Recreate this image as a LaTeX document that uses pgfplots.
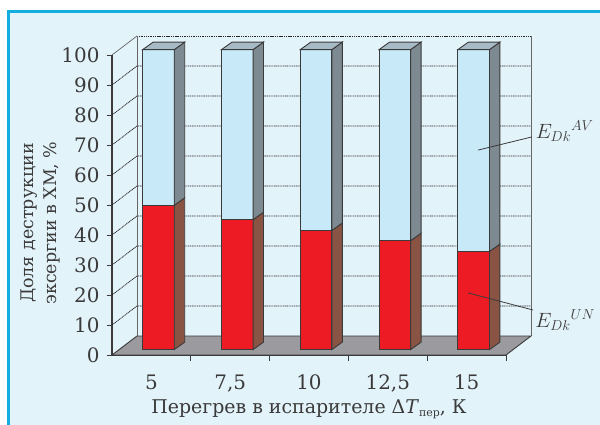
\documentclass[border=0pt]{standalone}
\usepackage{pgfplots}
\pgfplotsset{compat=1.18}
\usepackage{pgfplotstable}
\usepackage{fontspec}
\setmainfont{DejaVu Serif}

\definecolor{panelbg}{HTML}{E3F3FA}
\definecolor{panelline}{HTML}{12AEDF}
\definecolor{frontred}{HTML}{ED1C24}
\definecolor{sidered}{HTML}{8A5444}
\definecolor{frontblue}{HTML}{C7E9F8}
\definecolor{sideblue}{HTML}{7E8A92}
\definecolor{topblue}{HTML}{A7BBC6}
\definecolor{floorgray}{HTML}{9B9B9F}
\definecolor{edge}{HTML}{3A3A3A}
\definecolor{labelgray}{HTML}{3A3A3A}

% shares of exergy destruction, %: unavoidable (un) and avoidable (av)
\pgfplotstableread{
x     un    av
0.59  48.1  51.9
1.59  43.3  56.7
2.59  39.7  60.3
3.59  36.3  63.7
4.59  32.7  67.3
}\shares

\pgfplotsset{
  box/.style={scale only axis, width=394bp, height=300bp,
    xmin=0, xmax=5, ymin=0, ymax=100, clip=false, anchor=south west},
}
\tikzset{
  gridline/.style={draw=black!85, line width=0.8pt, dash pattern=on 1.1pt off 0.7pt},
  wallline/.style={draw=black!60, line width=0.7pt},
  faceedge/.style={draw=edge, line width=0.9pt},
}

\begin{document}
\begin{tikzpicture}
\useasboundingbox (0,0) rectangle (600bp,425bp);
\fill[white] (0,0) rectangle (600bp,425bp);
\fill[panelbg] (8.5bp,0) rectangle (600bp,413.5bp);
\draw[panelline, line width=3bp] (8.5bp,0) -- (8.5bp,413.5bp) -- (600bp,413.5bp);

% frame: walls, floor, ticks and labels
\begin{axis}[box, at={(112bp,70bp)},
  axis x line*=bottom, axis y line*=left,
  axis line style={draw=edge, line width=1.1pt},
  ytick={0,10,...,100}, tick align=outside, major tick length=5bp,
  tick style={draw=edge, line width=0.9pt},
  xtick={0.5,1.5,...,4.5}, xticklabels={5,{7,5},10,{12,5},15},
  major x tick style=transparent,
  tick label style={font=\fontsize{20}{20}\selectfont, text=labelgray},
  yticklabel style={xshift=-4bp},
  xticklabel style={yshift=-11bp},
  /pgf/number format/assume math mode=true,
  xlabel={Перегрев в испарителе Δ\textit{T}\raisebox{-0.35ex}{\fontsize{11}{11}\selectfont пер}, К},
  xlabel style={at={(axis description cs:0.5,-0.18)}, anchor=center,
    font=\fontsize{19}{19}\selectfont, text=labelgray},
  ylabel={Доля деструкции\\эксергии в ХМ, \%},
  ylabel style={at={(axis description cs:-0.1825,0.44)}, anchor=center, align=center,
    font=\fontsize{17.5}{23}\selectfont, text=labelgray},
]
% back and side walls
\pgfplotsinvokeforeach{10,20,...,90}{
  \draw[gridline] (axis cs:0,#1) -- (axis cs:0.317,{#1+6.33}) -- (axis cs:5.317,{#1+6.33});
}
\draw[wallline] (axis cs:0,100) -- (axis cs:0.317,106.33);
\draw[gridline] (axis cs:0.317,106.33) -- (axis cs:5.317,106.33);
\draw[wallline] (axis cs:0.317,6.33) -- (axis cs:0.317,106.33);
\draw[wallline] (axis cs:5.317,6.33) -- (axis cs:5.317,106.33);
% floor
\addplot[fill=floorgray, faceedge] coordinates {(0,0) (5,0) (5.317,6.33) (0.317,6.33)} -- cycle;
\pgfplotsinvokeforeach{1,...,5}{
  \draw[edge, line width=0.9pt] (axis cs:#1,0) -- ++(0,-6bp);
}
\end{axis}

% front faces of the bars
\begin{axis}[box, at={(112bp,75.4bp)}, hide axis, ybar stacked, bar width=0.4]
\addplot[fill=frontred, faceedge] table[x=x, y=un] {\shares};
\addplot[fill=frontblue, faceedge] table[x=x, y=av] {\shares};
\end{axis}

% side and top faces of the bars
\begin{axis}[box, at={(112bp,75.4bp)}, hide axis]
\addplot[fill=sidered, faceedge] coordinates {(0.79,0) (0.923,2.5) (0.923,50.6) (0.79,48.1)} -- cycle;
\addplot[fill=sideblue, faceedge] coordinates {(0.79,48.1) (0.923,50.6) (0.923,102.5) (0.79,100)} -- cycle;
\addplot[fill=topblue, faceedge] coordinates {(0.39,100) (0.79,100) (0.923,102.5) (0.523,102.5)} -- cycle;

\addplot[fill=sidered, faceedge] coordinates {(1.79,0) (1.923,2.5) (1.923,45.8) (1.79,43.3)} -- cycle;
\addplot[fill=sideblue, faceedge] coordinates {(1.79,43.3) (1.923,45.8) (1.923,102.5) (1.79,100)} -- cycle;
\addplot[fill=topblue, faceedge] coordinates {(1.39,100) (1.79,100) (1.923,102.5) (1.523,102.5)} -- cycle;

\addplot[fill=sidered, faceedge] coordinates {(2.79,0) (2.923,2.5) (2.923,42.2) (2.79,39.7)} -- cycle;
\addplot[fill=sideblue, faceedge] coordinates {(2.79,39.7) (2.923,42.2) (2.923,102.5) (2.79,100)} -- cycle;
\addplot[fill=topblue, faceedge] coordinates {(2.39,100) (2.79,100) (2.923,102.5) (2.523,102.5)} -- cycle;

\addplot[fill=sidered, faceedge] coordinates {(3.79,0) (3.923,2.5) (3.923,38.8) (3.79,36.3)} -- cycle;
\addplot[fill=sideblue, faceedge] coordinates {(3.79,36.3) (3.923,38.8) (3.923,102.5) (3.79,100)} -- cycle;
\addplot[fill=topblue, faceedge] coordinates {(3.39,100) (3.79,100) (3.923,102.5) (3.523,102.5)} -- cycle;

\addplot[fill=sidered, faceedge] coordinates {(4.79,0) (4.923,2.5) (4.923,35.2) (4.79,32.7)} -- cycle;
\addplot[fill=sideblue, faceedge] coordinates {(4.79,32.7) (4.923,35.2) (4.923,102.5) (4.79,100)} -- cycle;
\addplot[fill=topblue, faceedge] coordinates {(4.39,100) (4.79,100) (4.923,102.5) (4.523,102.5)} -- cycle;

% series callouts
\draw[labelgray, line width=0.8pt] (axis cs:4.645,66.5) -- (axis cs:5.33,70.9);
\draw[labelgray, line width=0.8pt] (axis cs:4.518,18.9) -- (axis cs:5.343,13.2);
\node[anchor=base west, inner sep=0, text=labelgray, font=\fontsize{20}{20}\selectfont]
  at (axis cs:5.375,70.5) {$E_{Dk}{}^{AV}$};
\node[anchor=base west, inner sep=0, text=labelgray, font=\fontsize{20}{20}\selectfont]
  at (axis cs:5.37,7.5) {$E_{Dk}{}^{UN}$};
\end{axis}
\end{tikzpicture}
\end{document}
